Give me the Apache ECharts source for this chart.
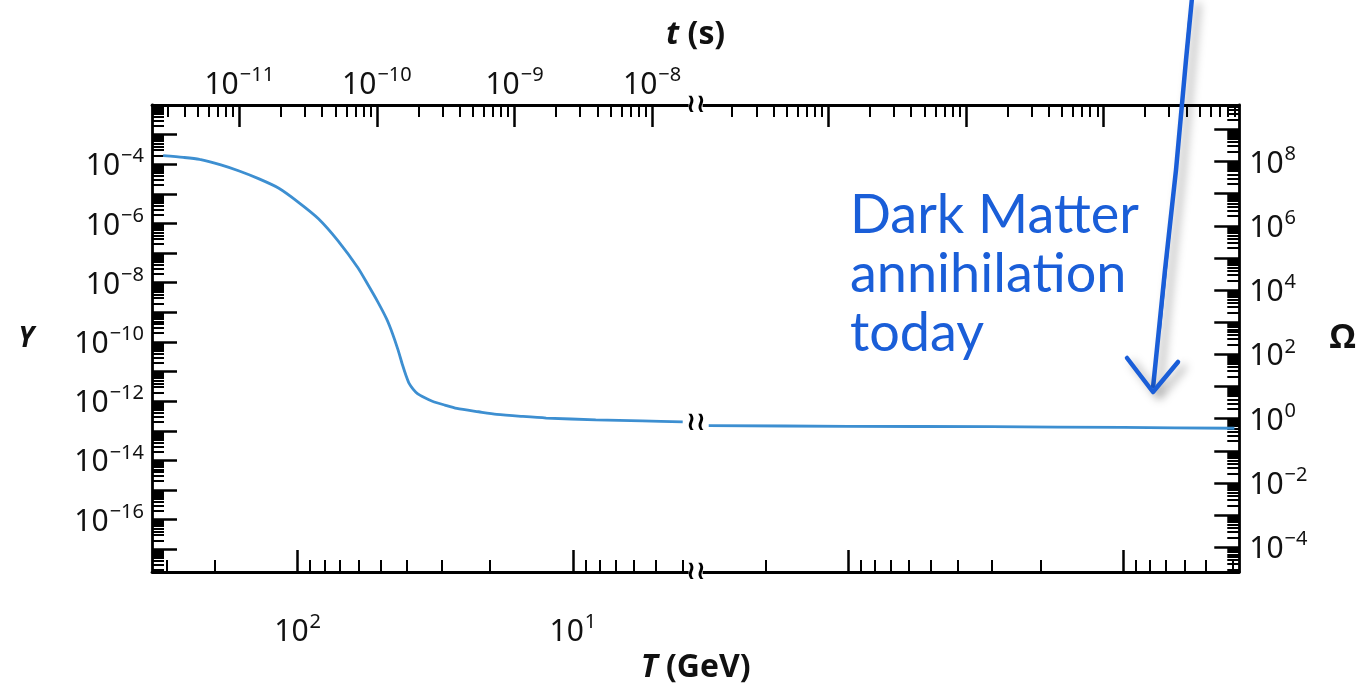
<!DOCTYPE html>
<html>
<head>
<meta charset="utf-8">
<script src="https://cdn.jsdelivr.net/npm/echarts@6/dist/echarts.min.js"></script>
<style>html,body{margin:0;padding:0;background:#fff}#c{width:1359px;height:689px}</style>
</head>
<body>
<div id="c"></div>
<script>
// ---- data ----
// temperature T (GeV) and comoving abundance Y along the curve
const T_before = [308, 260, 227, 190, 163, 138, 117, 99, 84, 71.3, 60.4, 55.5, 51.2, 47.5, 45.2, 43.2, 41.6, 40.3, 39.3, 38.0, 36.7, 34.5, 32.4, 29.2, 26.4, 22.0, 18.9, 15.2, 12.5, 8.26, 5.6, 3.99];
const Y_before = [1.95e-4, 1.7e-4, 1.45e-4, 9.5e-5, 5.9e-5, 3.2e-5, 1.55e-5, 5.1e-6, 1.45e-6, 2.6e-7, 3.2e-8, 8.5e-9, 2.3e-9, 6.0e-10, 1.9e-10, 5.5e-11, 1.7e-11, 7.0e-12, 3.9e-12, 2.5e-12, 1.8e-12, 1.3e-12, 1.0e-12, 7.4e-13, 5.7e-13, 4.4e-13, 3.6e-13, 3.05e-13, 2.7e-13, 2.35e-13, 2.15e-13, 2.0e-13];
const T_after = [3.21, 1.0, 0.30, 0.1, 0.0395];
const Y_after = [1.5e-13, 1.42e-13, 1.38e-13, 1.3e-13, 1.22e-13];

// axis ranges (decimal exponents) and labelled decades
const logT_range = [-1.421, 2.529];   // bottom axis, T decreasing to the right
const logt_range = [-11.634, -3.734]; // top axis, t (s)
const logY_range = [-17.77, -2.0];    // left axis, Y
const logOmega_range = [-4.774, 9.757]; // right axis, Omega
const T_labels = [2, 1];
const t_labels = [-11, -10, -9, -8];
const Y_labels = [-16, -14, -12, -10, -8, -6, -4];
const Omega_labels = [-4, -2, 0, 2, 4, 6, 8];
const breakLogT = 0.554;          // axis break position on the T scale
const breakZoneT = [0.45, 0.59];  // no ticks here
const breakZone_t = [-7.97, -7.45];
const tShiftAfterBreak = 0.28;    // top scale after the break

// ---- helpers ----
const L10 = Math.log10;
function majors(lo, hi, excl, shift) {
  shift = shift || 0; const out = [];
  for (let n = Math.floor(lo) - 1; n <= Math.ceil(hi) + 1; n++) {
    const v = n + shift;
    if (v > lo && v < hi && !(excl && v > excl[0] && v < excl[1])) out.push(v);
  }
  return out;
}
function minors(lo, hi, excl, shift) {
  shift = shift || 0; const out = [];
  for (let n = Math.floor(lo) - 1; n <= Math.ceil(hi) + 1; n++) {
    for (let k = 2; k <= 9; k++) {
      const v = n + L10(k) + shift;
      if (v > lo && v < hi && !(excl && v > excl[0] && v < excl[1])) out.push(v);
    }
  }
  return out;
}
function sup(v) {
  const s = (v < 0 ? '\u2212' : '') + Math.abs(Math.round(v));
  return '{b|10}{s|' + s + '}';
}
const labelRich = {
  b: { fontSize: 30, fontFamily: 'Noto Sans', color: '#111', verticalAlign: 'bottom' },
  s: { fontSize: 20, fontFamily: 'Noto Sans', color: '#111', verticalAlign: 'bottom', padding: [0, 0, 15, 1] }
};
const LINE = { show: true, onZero: false, lineStyle: { color: '#000', width: 2.8 } };
const NOLINE = { show: false, onZero: false };

// tick value sets
const breakT_t = -6.576 - 2 * breakLogT;
const tMajLeft = majors(logt_range[0], breakT_t, breakZone_t);
const tMajRight = majors(breakT_t, logt_range[1] + 0.05, breakZone_t, tShiftAfterBreak);
const tMinLeft = minors(logt_range[0], breakT_t, breakZone_t);
const tMinRight = minors(breakT_t, logt_range[1], breakZone_t, tShiftAfterBreak);

function tickAxis(base, values, len, width) {
  return Object.assign({
    type: 'value', axisLine: NOLINE, splitLine: { show: false },
    axisLabel: { show: false },
    axisTick: { show: true, inside: true, length: len, customValues: values, lineStyle: { color: '#000', width: width } }
  }, base);
}
const nameRich = {
  i: { fontSize: 32, fontWeight: 'bold', fontStyle: 'italic', fontFamily: 'Open Sans', color: '#111' },
  n: { fontSize: 32, fontWeight: 'bold', fontFamily: 'Open Sans', color: '#111' }
};

const chart = echarts.init(document.getElementById('c'));

const seriesData = [];
for (let i = 0; i < T_before.length; i++) seriesData.push([L10(T_before[i]), L10(Y_before[i])]);
seriesData.push([breakLogT, '-']);
for (let i = 0; i < T_after.length; i++) seriesData.push([L10(T_after[i]), L10(Y_after[i])]);

const option = {
  backgroundColor: '#fff',
  animation: false,
  grid: { left: 152, right: 109, top: 105, bottom: 96, containLabel: false },
  xAxis: [
    { type: 'value', position: 'bottom', inverse: true, min: logT_range[0], max: logT_range[1],
      axisLine: LINE, splitLine: { show: false },
      axisTick: { show: true, inside: true, length: 22, customValues: majors(logT_range[0], logT_range[1], breakZoneT), lineStyle: { color: '#000', width: 2.5 } },
      axisLabel: { show: true, customValues: T_labels, formatter: sup, rich: labelRich, margin: 40 },
      name: '{i|T}{n| (GeV)}', nameLocation: 'middle', nameGap: 72,
      nameTextStyle: { rich: nameRich } },
    tickAxis({ position: 'bottom', inverse: true, min: logT_range[0], max: logT_range[1] }, minors(logT_range[0], logT_range[1], breakZoneT), 12, 2),
    { type: 'value', position: 'top', min: logt_range[0], max: logt_range[1],
      axisLine: LINE, splitLine: { show: false },
      axisTick: { show: true, inside: true, length: 22, customValues: tMajLeft.concat(tMajRight), lineStyle: { color: '#000', width: 2.5 } },
      axisLabel: { show: true, customValues: t_labels, formatter: sup, rich: labelRich, margin: 5 },
      name: '{i|t}{n| (s)}', nameLocation: 'middle', nameGap: 54,
      nameTextStyle: { rich: nameRich } },
    tickAxis({ position: 'top', min: logt_range[0], max: logt_range[1] }, tMinLeft.concat(tMinRight), 12, 2)
  ],
  yAxis: [
    { type: 'value', position: 'left', min: logY_range[0], max: logY_range[1],
      axisLine: LINE, splitLine: { show: false },
      axisTick: { show: true, inside: true, length: 25, customValues: majors(logY_range[0], logY_range[1]), lineStyle: { color: '#000', width: 2.5 } },
      axisLabel: { show: true, customValues: Y_labels, formatter: sup, rich: labelRich, margin: 8 },
      name: 'Y', nameLocation: 'middle', nameRotate: 0, nameGap: 118,
      nameTextStyle: { fontSize: 28, fontWeight: 'bold', fontStyle: 'italic', fontFamily: 'Open Sans', color: '#111', padding: [8, 0, 0, 0] } },
    tickAxis({ position: 'left', min: logY_range[0], max: logY_range[1] }, minors(logY_range[0], logY_range[1]), 12, 2),
    { type: 'value', position: 'right', min: logOmega_range[0], max: logOmega_range[1],
      axisLine: LINE, splitLine: { show: false },
      axisTick: { show: true, inside: true, length: 25, customValues: majors(logOmega_range[0], logOmega_range[1]), lineStyle: { color: '#000', width: 2.5 } },
      axisLabel: { show: true, customValues: Omega_labels, formatter: sup, rich: labelRich, margin: 10 },
      name: '\u03A9', nameLocation: 'middle', nameRotate: 0, nameGap: 90,
      nameTextStyle: { fontSize: 34, fontWeight: 'bold', fontFamily: 'Open Sans', color: '#111', padding: [6, 0, 0, 0] } },
    tickAxis({ position: 'right', min: logOmega_range[0], max: logOmega_range[1] }, minors(logOmega_range[0], logOmega_range[1]), 12, 2)
  ],
  series: [{
    type: 'line', xAxisIndex: 0, yAxisIndex: 0, data: seriesData,
    showSymbol: false, smooth: 0.25, connectNulls: false,
    lineStyle: { color: '#3d8fd1', width: 2.8 }, z: 3
  }]
};
chart.setOption(option);

// break marks and annotation (positions from the library's own scales)
const bx = chart.convertToPixel({ xAxisIndex: 0 }, breakLogT);
const yTop = chart.convertToPixel({ yAxisIndex: 0 }, logY_range[1]);
const yBot = chart.convertToPixel({ yAxisIndex: 0 }, logY_range[0]);
const yLine = chart.convertToPixel({ yAxisIndex: 0 }, (L10(Y_before[Y_before.length - 1]) + L10(Y_after[0])) / 2);
function breakMark(y) {
  return [
    { type: 'rect', shape: { x: bx - 7, y: y - 5, width: 14, height: 10 }, style: { fill: '#fff' }, z: 50 },
    { type: 'text', x: bx, y: y, style: { text: '\u2240\u2240', font: 'bold 26px DejaVu Sans', fill: '#000', align: 'center', verticalAlign: 'middle' }, z: 51 }
  ];
}
const arrowBlue = '#1a5ed8';
const shadow = { shadowBlur: 10, shadowColor: 'rgba(0,0,0,0.35)', shadowOffsetX: 6, shadowOffsetY: 5 };
chart.setOption({
  graphic: [].concat(breakMark(yTop), breakMark(yBot), breakMark(yLine), [
    { type: 'text', left: 850, top: 186, z: 60,
      style: { text: 'Dark Matter\nannihilation\ntoday', font: '54px Lato', lineHeight: 59, fill: arrowBlue } },
    { type: 'polyline', z: 60, shape: { points: [[1192, -2], [1186, 60], [1176, 170], [1165, 270], [1153, 388]] },
      style: Object.assign({ stroke: arrowBlue, lineWidth: 4.5, fill: null }, shadow) },
    { type: 'polyline', z: 61, shape: { points: [[1189, 20], [1178, 150], [1160, 330]] },
      style: { stroke: arrowBlue, lineWidth: 2, fill: null } },
    { type: 'polyline', z: 60, shape: { points: [[1127, 358], [1153, 392], [1178, 362]] },
      style: Object.assign({ stroke: arrowBlue, lineWidth: 4.5, fill: null, lineJoin: 'round', lineCap: 'round' }, shadow) }
  ])
});
</script>
</body>
</html>
